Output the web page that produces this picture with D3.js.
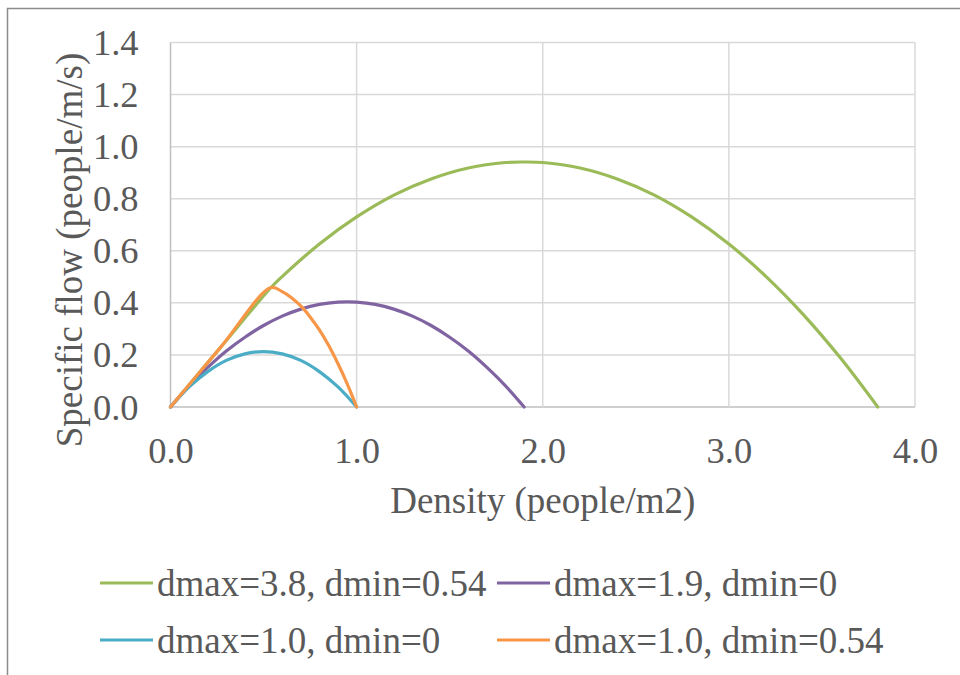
<!DOCTYPE html>
<html>
<head>
<meta charset="utf-8">
<script src="https://cdn.jsdelivr.net/npm/d3@7"></script>
<style>
  html, body { margin: 0; padding: 0; background: #fff; }
  svg { display: block; }
  text { font-family: "Liberation Serif", "Times New Roman", serif; fill: #595959; }
</style>
</head>
<body>
<svg id="chart" width="960" height="675"></svg>
<script>
// ---- data ----
const seriesNames = ["dmax=3.8, dmin=0.54", "dmax=1.9, dmin=0", "dmax=1.0, dmin=0", "dmax=1.0, dmin=0.54"];
const seriesColors = ["#9BBB59", "#8064A2", "#4BACC6", "#F79646"];

const greenX = [0, 0.27, 0.54, 0.6, 0.8, 1.0, 1.2, 1.4, 1.6, 1.8, 1.9, 2.0, 2.2, 2.4, 2.6, 2.8, 3.0, 3.2, 3.4, 3.6, 3.8];
const greenY = [0, 0.230, 0.459, 0.501, 0.626, 0.730, 0.814, 0.876, 0.918, 0.939, 0.941, 0.939, 0.918, 0.876, 0.814, 0.730, 0.626, 0.501, 0.355, 0.188, 0];

const purpleX = [0, 0.1, 0.2, 0.3, 0.4, 0.5, 0.6, 0.7, 0.8, 0.9, 0.95, 1.0, 1.1, 1.2, 1.3, 1.4, 1.5, 1.6, 1.7, 1.8, 1.9];
const purpleY = [0, 0.081, 0.152, 0.215, 0.268, 0.313, 0.349, 0.376, 0.394, 0.403, 0.404, 0.403, 0.394, 0.376, 0.349, 0.313, 0.268, 0.215, 0.152, 0.081, 0];

const cyanX = [0, 0.1, 0.2, 0.3, 0.4, 0.5, 0.6, 0.7, 0.8, 0.9, 1.0];
const cyanY = [0, 0.077, 0.136, 0.179, 0.204, 0.213, 0.204, 0.179, 0.136, 0.077, 0];

const orangeX = [0, 0.27, 0.54, 0.6, 0.65, 0.7, 0.75, 0.8, 0.85, 0.9, 0.95, 1.0];
const orangeY = [0, 0.230, 0.459, 0.443, 0.420, 0.388, 0.346, 0.296, 0.236, 0.166, 0.088, 0];

const xTicks = [0, 1, 2, 3, 4];
const yTicks = [0, 0.2, 0.4, 0.6, 0.8, 1.0, 1.2, 1.4];
const xTitle = "Density (people/m2)";
const yTitle = "Specific flow (people/m/s)";

// ---- layout ----
const svg = d3.select("#chart");
const plot = { left: 170.5, right: 915, top: 42.5, bottom: 407 };
const x = d3.scaleLinear().domain([0, 4]).range([plot.left, plot.right]);
const y = d3.scaleLinear().domain([0, 1.4]).range([plot.bottom, plot.top]);
const fontSize = 36.5;

// outer chart border
svg.append("rect")
  .attr("x", 7.5).attr("y", 8.5).attr("width", 1000).attr("height", 1000)
  .attr("fill", "none").attr("stroke", "#8c8c8c").attr("stroke-width", 1.5);

// gridlines
const grid = svg.append("g");
grid.selectAll("line.h").data(yTicks).join("line")
  .attr("x1", plot.left).attr("x2", plot.right)
  .attr("y1", d => y(d)).attr("y2", d => y(d))
  .attr("stroke", d => d === 0 ? "#bfbfbf" : "#d9d9d9").attr("stroke-width", 1.5);
grid.selectAll("line.v").data(xTicks).join("line")
  .attr("y1", plot.top).attr("y2", plot.bottom)
  .attr("x1", d => x(d)).attr("x2", d => x(d))
  .attr("stroke", d => d === 0 ? "#bfbfbf" : "#d9d9d9").attr("stroke-width", 1.5);

// axes (labels only, via d3 axes)
const xAxis = svg.append("g").attr("transform", `translate(0,${plot.bottom})`)
  .call(d3.axisBottom(x).tickValues(xTicks).tickFormat(d3.format(".1f")).tickSize(0).tickPadding(0));
xAxis.select(".domain").remove();
xAxis.selectAll("text").attr("dy", null).attr("y", 56)
  .style("font-size", fontSize + "px").style("font-family", "Liberation Serif").attr("fill", "#595959");

const yAxis = svg.append("g").attr("transform", `translate(138.5,0)`)
  .call(d3.axisLeft(y).tickValues(yTicks).tickFormat(d3.format(".1f")).tickSize(0).tickPadding(0));
yAxis.select(".domain").remove();
yAxis.selectAll("text").attr("dy", "0.33em")
  .style("font-size", fontSize + "px").style("font-family", "Liberation Serif").attr("fill", "#595959");

// axis titles
svg.append("text").attr("x", (plot.left + plot.right) / 2).attr("y", 513)
  .attr("text-anchor", "middle").style("font-size", "37px").text(xTitle);
svg.append("text").attr("transform", "translate(82,250) rotate(-90)")
  .attr("text-anchor", "middle").style("font-size", "37px").text(yTitle);

// series
const allSeries = [
  { xs: greenX, ys: greenY },
  { xs: purpleX, ys: purpleY },
  { xs: cyanX, ys: cyanY },
  { xs: orangeX, ys: orangeY }
];
const line = d3.line().x(d => x(d[0])).y(d => y(d[1])).curve(d3.curveCatmullRom.alpha(0.5));
allSeries.forEach((s, i) => {
  const pts = s.xs.map((v, j) => [v, s.ys[j]]);
  svg.append("path").datum(pts)
    .attr("d", line)
    .attr("fill", "none")
    .attr("stroke", seriesColors[i])
    .attr("stroke-width", 3.2)
    .attr("stroke-linejoin", "round")
    .attr("stroke-linecap", "round");
});

// legend
const legendPos = [[100, 583], [497, 583], [100, 640], [497, 640]];
seriesNames.forEach((name, i) => {
  const [lx, ly] = legendPos[i];
  const g = svg.append("g").attr("transform", `translate(${lx},${ly})`);
  g.append("line").attr("x1", 0).attr("x2", 53).attr("y1", 0).attr("y2", 0)
    .attr("stroke", seriesColors[i]).attr("stroke-width", 3.2);
  g.append("text").attr("x", 57).attr("y", 12.5)
    .style("font-size", "37px").text(name);
});
</script>
</body>
</html>
